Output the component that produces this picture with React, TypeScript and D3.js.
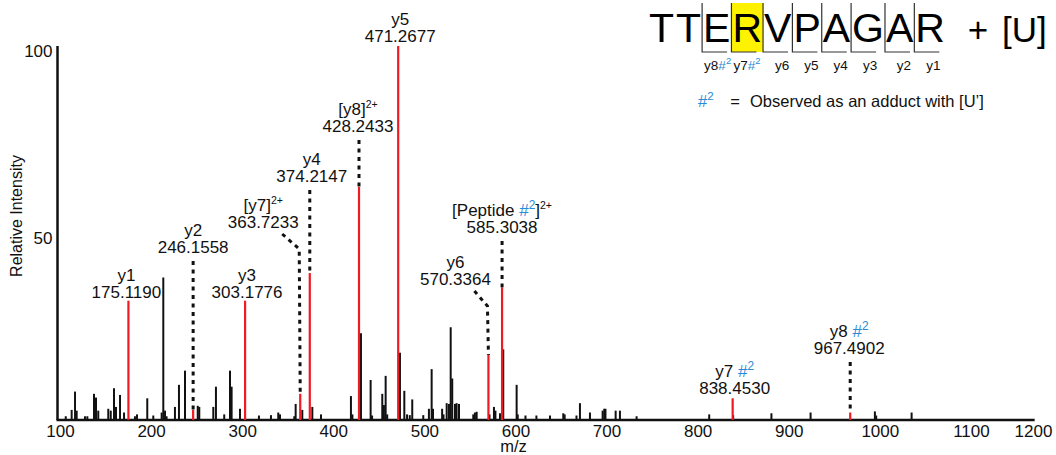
import React, { useEffect, useRef } from 'react';
import * as d3 from 'd3';

const FONT = '"Liberation Sans", Arial, Helvetica, sans-serif';
const INK = '#111';
const RED = '#f01a22';
const BLUE = '#2a8ad4';
const YELLOW = '#fff200';

// unassigned peaks: [m/z, relative intensity]
const peaks: [number, number][] = [
  [106.3, 1], [112.8, 2.7], [116.5, 7.6], [118.3, 2.5], [127.4, 1], [130.0, 1],
  [137.3, 7], [139.5, 6], [142.0, 2.5], [153.0, 3], [155.7, 2.5], [159.3, 8.5],
  [161.5, 3.5], [165.9, 6.7], [170.3, 2], [182.3, 1], [184.5, 1.5], [195.8, 5.8],
  [202.4, 1.2], [211.6, 2], [213.4, 38.1], [215.3, 2.5], [217.0, 1], [226.2, 3.5],
  [230.6, 9.4], [237.2, 13.2], [251.2, 3.8], [252.9, 3.5], [268.3, 3.5], [271.2, 8.9],
  [280.3, 1.5], [286.6, 13.2], [288.4, 8.9], [297.6, 3], [318.4, 1.2], [331.6, 1.3],
  [339.6, 2], [341.5, 1.5], [357.2, 1], [358.7, 4.3], [366.0, 2.7], [377.0, 3.5],
  [386.5, 1.5], [419.4, 6.4], [421.0, 1.5], [430.4, 23.2], [441.0, 10.7], [442.6, 1.2],
  [453.8, 7], [455.6, 4], [457.5, 11.8], [459.2, 1.5], [473.2, 18], [478.0, 7.8],
  [481.0, 1.5], [484.0, 1.3], [486.7, 5.5], [498.8, 1.3], [505.0, 3], [508.0, 13.6],
  [509.5, 3], [519.5, 3], [521.0, 1.5], [524.5, 4.5], [527.0, 4.3], [528.9, 24.8],
  [530.6, 11.1], [533.6, 4.3], [535.4, 4.5], [538.0, 4.3], [553.7, 1.5], [555.5, 2],
  [557.4, 2.2], [571.5, 1.5], [576.4, 3.5], [578.0, 2.5], [583.0, 1.8], [586.6, 18.9],
  [601.3, 9.4], [602.5, 1.5], [611.0, 1.2], [623.0, 1.2], [637.9, 1.2], [652.5, 1.8],
  [654.0, 1.5], [667.0, 1.2], [670.8, 4.5], [681.8, 2], [695.7, 2.5], [697.5, 3],
  [698.8, 3], [710.0, 2.5], [714.7, 2.5], [733.0, 1], [812.7, 1.5], [839.0, 1.3],
  [881.0, 1.8], [924.0, 2], [994.6, 2.3], [996.0, 1.2], [1034.9, 2],
];

// assigned ions
const ionMz = [175.119, 246.1558, 303.1776, 363.7233, 374.2147, 428.2433, 471.2677, 570.3364, 585.3038, 838.453, 967.4902];
const ionIntensity = [31.9, 2.7, 31.9, 7, 39.3, 62.3, 100, 17.4, 35.5, 5.8, 2];
const ionName = ['y1', 'y2', 'y3', 'y7', 'y4', 'y8', 'y5', 'y6', 'Peptide', 'y7', 'y8'];
const ionCharge = [1, 1, 1, 2, 1, 2, 1, 1, 2, 1, 1];
const ionAdduct = [false, false, false, false, false, false, false, false, true, true, true];

// label placement (pixel baseline of the m/z line, horizontal shift from the peak)
const labelBaseline = [298, 253, 298, 228, 182, 132, 42, 285, 233, 394, 354];
const labelShift = [-2, 0, 2, -37, 2, -1, 2, -33, 0, 2, -1];

const xTicks = [100, 200, 300, 400, 500, 600, 700, 800, 900, 1000, 1100, 1200];
const yTicks = [50, 100];

const sequence = ['T', 'T', 'E', 'R', 'V', 'P', 'A', 'G', 'A', 'R'];
const modifiedResidue = 3;
const fragAdduct = [true, true, false, false, false, false, false, false]; // y8 .. y1

// Arial advance widths (em)
const ADV: Record<string, number> = { T: 0.611, E: 0.667, R: 0.722, V: 0.667, P: 0.667, A: 0.667, G: 0.778 };

const Adduct = ({ size }: { size: number }) => (
  <>
    <tspan fill={BLUE}>#</tspan>
    <tspan fill={BLUE} dy={-size * 0.42} fontSize={size * 0.7}>2</tspan>
  </>
);

const IonLabel = ({ i, size }: { i: number; size: number }) => {
  const up = size * 0.42;
  if (ionCharge[i] > 1) {
    return (
      <>
        {'[' + ionName[i] + (ionAdduct[i] ? ' ' : '')}
        {ionAdduct[i] ? (
          <>
            <tspan fill={BLUE}>#</tspan>
            <tspan fill={BLUE} dy={-up} fontSize={size * 0.7}>2</tspan>
            <tspan dy={up}>]</tspan>
          </>
        ) : ']'}
        <tspan dy={-up} fontSize={size * 0.62}>2+</tspan>
      </>
    );
  }
  return (
    <>
      {ionName[i] + (ionAdduct[i] ? ' ' : '')}
      {ionAdduct[i] && <Adduct size={size} />}
    </>
  );
};

export default function App() {
  const xAxisRef = useRef<SVGGElement>(null);
  const yAxisRef = useRef<SVGGElement>(null);

  const x = d3.scaleLinear().domain([100, 1200]).range([60, 1062]);
  const y = d3.scaleLinear().domain([0, 100]).range([420, 46]);
  const axisX = 57.5;

  useEffect(() => {
    const gx = d3.select(xAxisRef.current);
    gx.selectAll('*').remove();
    gx.call(d3.axisBottom(x).tickValues(xTicks).tickSize(0).tickPadding(5).tickFormat(d3.format('d')) as any);
    gx.select('.domain').remove();
    gx.selectAll('text').attr('font-size', 17).attr('font-family', FONT).attr('fill', INK);
    // last label is pulled back inside the frame
    gx.selectAll<SVGGElement, number>('.tick').filter((d) => d === 1200).select('text').attr('x', -29);

    const gy = d3.select(yAxisRef.current);
    gy.selectAll('*').remove();
    gy.call(d3.axisLeft(y).tickValues(yTicks).tickSize(0).tickPadding(5) as any);
    gy.select('.domain').remove();
    gy.selectAll('text').attr('font-size', 17).attr('font-family', FONT).attr('fill', INK).attr('dy', '0.62em');
  }, []);

  // peptide header geometry
  const seqSize = 41;
  const seqGap = 2;
  const seqX0 = 649;
  const lefts: number[] = [];
  sequence.reduce((acc, aa) => {
    lefts.push(acc);
    return acc + ADV[aa] * seqSize + seqGap;
  }, seqX0);
  const seqEnd = lefts[lefts.length - 1] + ADV[sequence[sequence.length - 1]] * seqSize;
  const cuts = lefts.slice(2).map((l) => l - 1); // y8 .. y1 cleavage points

  return (
    <svg width={1056} height={455} style={{ position: 'absolute', left: 0, top: 0, background: '#fff' }} fontFamily={FONT}>
      {/* axes */}
      <line x1={axisX} x2={axisX} y1={y(0)} y2={y(100)} stroke={INK} strokeWidth={2.5} />
      <line x1={axisX - 1} x2={x(1170)} y1={y(0)} y2={y(0)} stroke={INK} strokeWidth={2.5} />
      <g ref={xAxisRef} transform={`translate(0,${y(0)})`} />
      <g ref={yAxisRef} transform={`translate(${axisX},0)`} />
      <text x={x(600) - 2} y={452} textAnchor="middle" fontSize={16.5} fill={INK}>m/z</text>
      <text transform="translate(22,216) rotate(-90)" textAnchor="middle" fontSize={16} fill={INK}>Relative Intensity</text>

      {/* unassigned peaks */}
      {peaks.map(([mz, v], i) => (
        <line key={i} x1={x(mz)} x2={x(mz)} y1={y(0)} y2={y(v)} stroke={INK} strokeWidth={2} />
      ))}

      {/* assigned ions */}
      {ionMz.map((mz, i) => {
        const px = x(mz);
        const top = y(ionIntensity[i]);
        const cx = px + labelShift[i];
        const base = labelBaseline[i];
        let leader: string | null = null;
        if (top - base > 10) {
          leader = Math.abs(labelShift[i]) > 10
            ? `M${cx + 19},${base + 6}L${px - 1},${base + 21}L${px},${top}`
            : `M${px},${base + 8}L${px},${top}`;
        }
        return (
          <g key={`ion${i}`}>
            <line x1={px} x2={px} y1={y(0)} y2={top} stroke={RED} strokeWidth={2.2} />
            {leader && <path d={leader} fill="none" stroke={INK} strokeWidth={3} strokeDasharray="4 4.5" />}
            <text x={cx} y={base - 17} textAnchor="middle" fontSize={17} fill={INK}>
              <IonLabel i={i} size={17} />
            </text>
            <text x={cx} y={base} textAnchor="middle" fontSize={17} fill={INK}>{mz.toFixed(4)}</text>
          </g>
        );
      })}

      {/* peptide sequence with fragment map */}
      <rect x={lefts[modifiedResidue] - 1} y={3} width={lefts[modifiedResidue + 1] - lefts[modifiedResidue]} height={49} fill={YELLOW} />
      {sequence.map((aa, i) => (
        <text key={`aa${i}`} x={lefts[i]} y={42} fontSize={seqSize} fill="#000">{aa}</text>
      ))}
      {cuts.map((cx, k) => (
        <path key={`cut${k}`} d={`M${cx},3V52H${cx + 25}`} fill="none" stroke="#333" strokeWidth={1.2} />
      ))}
      {cuts.map((cx, k) =>
        fragAdduct[k] ? (
          <text key={`fl${k}`} x={cx + 2} y={70} fontSize={13.5} fill={INK}>
            {`y${8 - k}`}
            <Adduct size={13.5} />
          </text>
        ) : (
          <text key={`fl${k}`} x={cx + 19} y={70} textAnchor="middle" fontSize={13.5} fill={INK}>{`y${8 - k}`}</text>
        )
      )}
      <text x={seqEnd + 33} y={42} textAnchor="middle" fontSize={35} fill="#000">+</text>
      <text x={seqEnd + 57} y={42} fontSize={35} fill="#000">[U]</text>

      {/* adduct legend */}
      <text x={698} y={107} fontSize={16.5} fill={INK}>
        <Adduct size={16.5} />
      </text>
      <text x={735} y={107} textAnchor="middle" fontSize={16.5} fill={INK}>=</text>
      <text x={750} y={107} fontSize={16.5} fill={INK}>Observed as an adduct with [U’]</text>
    </svg>
  );
}
